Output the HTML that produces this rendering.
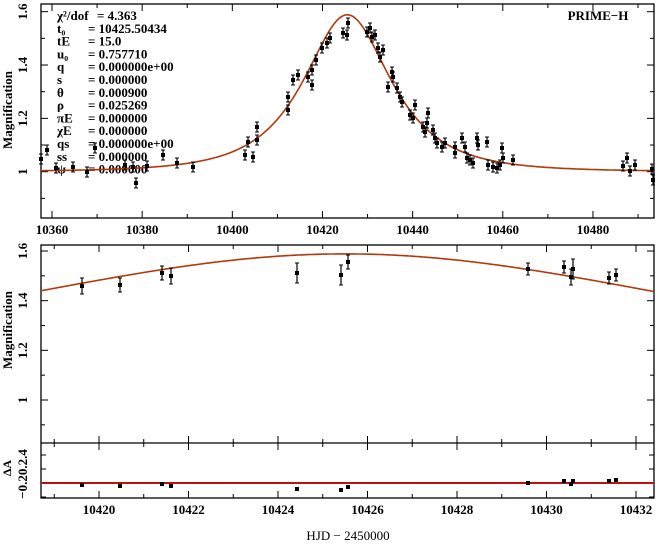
<!DOCTYPE html>
<html><head><meta charset="utf-8"><style>
html,body{margin:0;padding:0;background:#fff;}
svg{display:block;}
text{font-family:"Liberation Serif",serif;fill:#000;}
</style></head><body>
<svg id="s" width="662" height="545" xmlns="http://www.w3.org/2000/svg">
<rect width="662" height="545" fill="#fff"/>
<g id="g"></g>
</svg>
<script>
var NS="http://www.w3.org/2000/svg",G=document.getElementById('g');
function el(n,a,t){var e=document.createElementNS(NS,n);for(var k in a)e.setAttribute(k,a[k]);if(t!==undefined)e.textContent=t;G.appendChild(e);return e;}
function A(t){var u0=0.75771,tE=15,t0=10425.50494;var d=(t-t0)/tE;var u2=u0*u0+d*d,u=Math.sqrt(u2);return (u2+2)/(u*Math.sqrt(u2+4));}
var L=41,R=654,T1=4,B1=218;
function X1(t){return 52+(t-10360)*4.508;} function Y1(a){return 171.7-(a-1)*266.7;}
el('rect',{x:L,y:T1,width:R-L,height:B1-T1,fill:'none',stroke:'#000','stroke-width':1.3});
for(var t=10360;t<=10490;t+=10){var x=X1(t);if(x<L||x>R)continue;var m=(t%20==0)?7:4;
 el('line',{x1:x,y1:B1,x2:x,y2:B1-m,stroke:'#000'});el('line',{x1:x,y1:T1,x2:x,y2:T1+m,stroke:'#000'});
 if(t%20==0)el('text',{x:x,y:234,'text-anchor':'middle','font-size':13,'font-weight':'bold'},t);}
for(var a=0.9;a<=1.61;a+=0.1){var y=Y1(a);var maj=Math.abs(a*10-Math.round(a*10))<0.01&&Math.round(a*10)%2==0;var m=maj?7:4;
 el('line',{x1:L,y1:y,x2:L+m,y2:y,stroke:'#000'});el('line',{x1:R,y1:y,x2:R-m,y2:y,stroke:'#000'});
 if(maj){var s=(Math.round(a*10)/10).toString();el('text',{x:0,y:0,'text-anchor':'middle','font-size':13,'font-weight':'bold',transform:'translate(27,'+y+') rotate(-90)'},s);}}
el('text',{x:0,y:0,'text-anchor':'middle','font-size':13,'font-weight':'bold',transform:'translate(12,110) rotate(-90)'},'Magnification');
el('text',{x:598,y:20,'text-anchor':'middle','font-size':13,'font-weight':'bold'},'PRIME−H');
var P=[['χ²/dof','= 4.363'],['t₀','= 10425.50434'],['tE','= 15.0'],['u₀','= 0.757710'],['q','= 0.000000e+00'],['s','= 0.000000'],['θ','= 0.000900'],['ρ','= 0.025269'],['πE','= 0.000000'],['χE','= 0.000000'],['qs','= 0.000000e+00'],['ss','= 0.000000'],['ψ','= 0.000000']];
for(var i=0;i<P.length;i++){var y=20+i*12.8;el('text',{x:57,y:y,'font-size':13,'font-weight':'bold'},P[i][0]);el('text',{x:i==0?97:88,y:y,'font-size':13,'font-weight':'bold'},P[i][1]);}
var d='';for(var x=L;x<=R;x+=1){var t=10360+(x-52)/4.508;var y=Y1(A(t));d+=(x==L?'M':'L')+x+','+y.toFixed(1);}
el('path',{d:d,fill:'none',stroke:'#b03a0a','stroke-width':1.6});
var pts=[[41,159],[47,150],[56,168],[73,167],[87,172],[95,148],[125,165],[133,167],[136,183],[147,166],[163,155],[177,163],[193,167],[245,155],[248,142],[253,157],[257,127],[257,140],[288,110],[288,97],[293,80],[298,75],[308,77],[312,85],[312,70],[316,60],[322,48],[327,43],[330,38],[343,33],[347,35],[348,23],[367,32],[370,28],[372,37],[375,35],[378,48],[380,57],[383,50],[388,87],[392,72],[393,77],[397,88],[400,97],[402,102],[410,115],[415,105],[413,118],[423,127],[425,132],[427,123],[428,113],[433,130],[435,138],[437,143],[442,147],[445,143],[455,153],[455,147],[462,138],[465,147],[467,158],[470,160],[473,163],[477,138],[478,145],[487,142],[488,165],[493,167],[497,168],[500,165],[502,148],[503,158],[513,160],[623,166],[627,158],[630,171],[635,165],[652,169],[653,180]];
function pt(x,y,e){el('line',{x1:x,y1:y-e,x2:x,y2:y+e,stroke:'#000','stroke-width':1.2});el('line',{x1:x-2,y1:y-e,x2:x+2,y2:y-e,stroke:'#000'});el('line',{x1:x-2,y1:y+e,x2:x+2,y2:y+e,stroke:'#000'});el('rect',{x:x-2,y:y-2,width:4,height:4,fill:'#000'});}
pts.forEach(function(p){pt(p[0],p[1],5);});
var T2=245,B2=443,B3=498;
function X2(t){return 99+(t-10420)*44.75;} function Y2(a){return 400-(a-1)*248.3;}
el('rect',{x:L,y:T2,width:R-L,height:B3-T2,fill:'none',stroke:'#000','stroke-width':1.3});
el('line',{x1:L,y1:B2,x2:R,y2:B2,stroke:'#000','stroke-width':1.3});
for(var t=10419;t<=10432;t+=1){var x=X2(t);if(x<L||x>R)continue;var m=(t%2==0)?7:4;
 el('line',{x1:x,y1:B2-m,x2:x,y2:B2+m,stroke:'#000'});el('line',{x1:x,y1:T2,x2:x,y2:T2+m,stroke:'#000'});el('line',{x1:x,y1:B3,x2:x,y2:B3-m,stroke:'#000'});
 if(t%2==0)el('text',{x:x,y:514,'text-anchor':'middle','font-size':13,'font-weight':'bold'},t);}
for(var k=9;k<=16;k++){var a=k/10,y=Y2(a);if(y<T2)continue;var maj=k%2==0;var m=maj?7:4;
 el('line',{x1:L,y1:y,x2:L+m,y2:y,stroke:'#000'});el('line',{x1:R,y1:y,x2:R-m,y2:y,stroke:'#000'});
 if(maj)el('text',{x:0,y:0,'text-anchor':'middle','font-size':13,'font-weight':'bold',transform:'translate(27,'+y+') rotate(-90)'},(k/10).toString());}
el('text',{x:0,y:0,'text-anchor':'middle','font-size':13,'font-weight':'bold',transform:'translate(12,330) rotate(-90)'},'Magnification');
d='';for(var x=L;x<=R;x+=1){var t=10420+(x-99)/44.75;d+=(x==L?'M':'L')+x+','+Y2(A(t)).toFixed(1);}
el('path',{d:d,fill:'none',stroke:'#b03a0a','stroke-width':1.6});
var mp=[[82,286,8],[120,285,7],[162,273,7],[171,276,8],[297,273,10],[341,275,10],[348,262,7],[528,269,6],[564,267,6],[571,277,8],[573,269,10],[609,278,6],[616,275,6]];
mp.forEach(function(p){pt(p[0],p[1],p[2]);});
[455,469,483,497].forEach(function(y){el('line',{x1:L,y1:y,x2:L+5,y2:y,stroke:'#000'});el('line',{x1:R,y1:y,x2:R-5,y2:y,stroke:'#000'});});
el('text',{x:0,y:0,'text-anchor':'middle','font-size':13,'font-weight':'bold',transform:'translate(27,474) rotate(-90)'},'−0.20.2.4');
el('text',{x:0,y:0,'text-anchor':'middle','font-size':12,'font-weight':'bold',transform:'translate(11,468) rotate(-90)'},'ΔA');
el('line',{x1:L,y1:483,x2:R,y2:483,stroke:'#c01010','stroke-width':2});
var rs=[[82,485],[120,486],[162,484],[171,486],[297,489],[341,490],[348,487],[528,483],[564,481],[571,484],[573,481],[609,481],[616,480]];
rs.forEach(function(p){el('rect',{x:p[0]-2,y:p[1]-2,width:4,height:4,fill:'#000'});});
el('text',{x:348,y:540,'text-anchor':'middle','font-size':13},'HJD − 2450000');
</script>
</body></html>
